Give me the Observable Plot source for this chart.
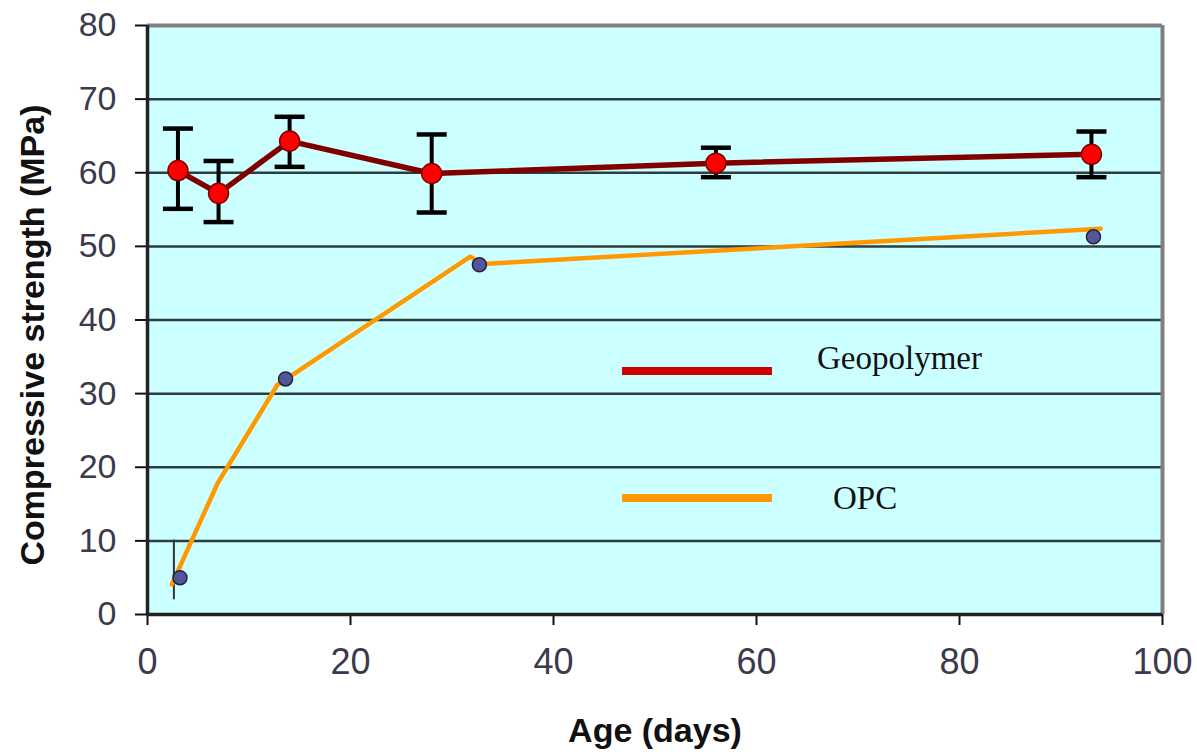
<!DOCTYPE html>
<html>
<head>
<meta charset="utf-8">
<script src="https://cdn.jsdelivr.net/npm/d3@7"></script>
<script src="https://cdn.jsdelivr.net/npm/@observablehq/plot@0.6"></script>
<style>
  body { margin: 0; background: #fff; }
  #wrap { position: relative; width: 1197px; height: 752px; }
  .leg-line { position: absolute; left: 622px; width: 150px; height: 8px; }
  .leg-text { position: absolute; font-family: "Liberation Serif", "Times New Roman", serif; font-size: 33px; line-height: 1; color: #111; white-space: nowrap; }
</style>
</head>
<body>
<div id="wrap"></div>
<script>
// Geopolymer series (age in days, strength in MPa, error bar bounds)
const geoAge = [3, 7, 14, 28, 56, 93];
const geoStrength = [60.3, 57.2, 64.3, 59.9, 61.3, 62.5];
const geoHigh = [66.0, 61.6, 67.6, 65.2, 63.4, 65.6];
const geoLow = [55.1, 53.3, 60.8, 54.6, 59.4, 59.4];

// OPC measured points
const opcAge = [3.2, 13.6, 32.7, 93.2];
const opcStrength = [5.0, 32.0, 47.5, 51.3];

// OPC drawn trend line
const opcLineAge = [2.4, 6.9, 12.8, 31.8, 32.9, 93.9];
const opcLineStrength = [4.1, 17.8, 31.2, 48.6, 47.6, 52.4];

// OPC error bar at first point
const opcErrAge = [2.6];
const opcErrLow = [2.0];
const opcErrHigh = [10.1];

const xTicks = [0, 20, 40, 60, 80, 100];
const yTicks = [0, 10, 20, 30, 40, 50, 60, 70, 80];
const gridValues = [10, 20, 30, 40, 50, 60, 70];

const geo = geoAge.map((a, i) => ({age: a, s: geoStrength[i], hi: geoHigh[i], lo: geoLow[i]}));
const opc = opcAge.map((a, i) => ({age: a, s: opcStrength[i]}));
const opcLine = opcLineAge.map((a, i) => ({age: a, s: opcLineStrength[i]}));
const opcErr = opcErrAge.map((a, i) => ({age: a, lo: opcErrLow[i], hi: opcErrHigh[i]}));

const capSymbol = {
  draw(context) {
    context.moveTo(-15, 0);
    context.lineTo(15, 0);
  }
};

const tickColor = "#3a3a4c";

const chart = Plot.plot({
  width: 1197,
  height: 752,
  marginLeft: 147,
  marginRight: 35,
  marginTop: 25,
  marginBottom: 138,
  style: {background: "transparent", fontFamily: "'Liberation Sans', Arial, sans-serif"},
  x: {domain: [0, 100]},
  y: {domain: [0, 80]},
  marks: [
    Plot.frame({fill: "#ccffff", stroke: null}),
    Plot.ruleY(gridValues, {stroke: "#2e3e3e", strokeWidth: 2.5}),
    Plot.ruleY([80], {stroke: "#808080", strokeWidth: 4}),
    Plot.ruleX([100], {stroke: "#808080", strokeWidth: 4, y1: 0, y2: 80}),
    Plot.axisY({ticks: yTicks, tickSize: 12, tickPadding: 19, fontSize: 34, tickFormat: d => String(d), color: tickColor, stroke: "#111", strokeWidth: 2, label: null}),
    Plot.axisX({ticks: xTicks, tickSize: 11, tickPadding: 23, fontSize: 36, tickFormat: d => String(d), color: tickColor, stroke: "#111", strokeWidth: 2, label: null}),
    Plot.ruleX([0], {stroke: "#222", strokeWidth: 3.5}),
    Plot.ruleY([0], {stroke: "#222", strokeWidth: 3.5}),
    // Geopolymer error bars
    Plot.ruleX(geo, {x: "age", y1: "lo", y2: "hi", stroke: "#000", strokeWidth: 4}),
    Plot.dot(geo, {x: "age", y: "hi", symbol: capSymbol, stroke: "#000", strokeWidth: 4.5, fill: "none"}),
    Plot.dot(geo, {x: "age", y: "lo", symbol: capSymbol, stroke: "#000", strokeWidth: 4.5, fill: "none"}),
    // Geopolymer line and points
    Plot.line(geo, {x: "age", y: "s", stroke: "#800000", strokeWidth: 5.5}),
    Plot.dot(geo, {x: "age", y: "s", r: 10, fill: "#ff0000", stroke: "#800000", strokeWidth: 1.5}),
    // OPC
    Plot.ruleX(opcErr, {x: "age", y1: "lo", y2: "hi", stroke: "#333", strokeWidth: 2}),
    Plot.line(opcLine, {x: "age", y: "s", stroke: "#ff9900", strokeWidth: 4.5, curve: "linear"}),
    Plot.dot(opc, {x: "age", y: "s", r: 7, fill: "#555599", stroke: "#222244", strokeWidth: 1.5}),
    // Axis titles
    Plot.text(["Age (days)"], {frameAnchor: "bottom", lineAnchor: "middle", dy: 117, fontSize: 34, fontWeight: "bold", fill: "#111", style: "letter-spacing:2px"}),
    Plot.text(["Compressive strength (MPa)"], {frameAnchor: "left", textAnchor: "middle", lineAnchor: "middle", dx: -114, dy: 15, rotate: -90, fontSize: 34, fontWeight: "bold", fill: "#111"})
  ]
});

const wrap = document.getElementById("wrap");
wrap.appendChild(chart);

// Legend (inside the plot area)
const legend = [
  {label: "Geopolymer", color: "#cc0000", lineTop: 367, textTop: 342, textLeft: 817},
  {label: "OPC", color: "#ff9900", lineTop: 494, textTop: 482, textLeft: 833}
];
for (const item of legend) {
  const ln = document.createElement("div");
  ln.className = "leg-line";
  ln.style.top = item.lineTop + "px";
  ln.style.background = item.color;
  wrap.appendChild(ln);
  const tx = document.createElement("div");
  tx.className = "leg-text";
  tx.style.top = item.textTop + "px";
  tx.style.left = item.textLeft + "px";
  tx.textContent = item.label;
  wrap.appendChild(tx);
}
</script>
</body>
</html>
